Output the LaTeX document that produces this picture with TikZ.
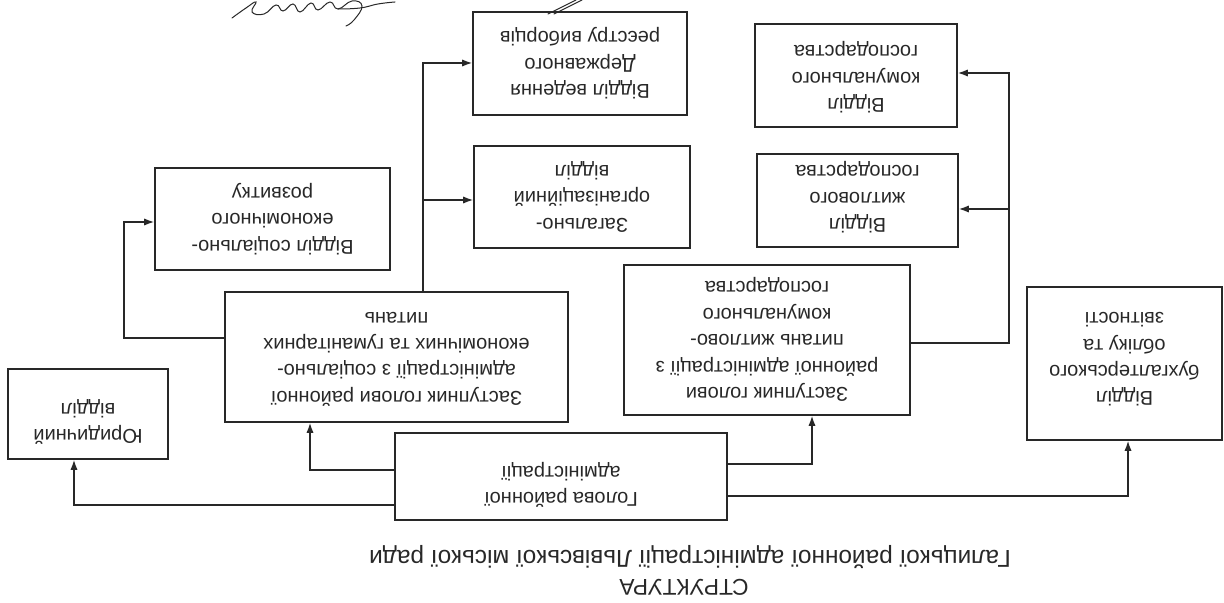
\documentclass[tikz,border=0pt]{standalone}
\usepackage{fontspec}
\setmainfont{Liberation Sans}
\usepackage{graphicx}
\usetikzlibrary{arrows.meta}
\definecolor{ink}{RGB}{40,40,40}
\newcommand\ud[2][0pt]{\raisebox{#1}[\height][\depth]{\rotatebox[origin=c]{180}{\begin{tabular}{@{}c@{}}#2\end{tabular}}}}
\begin{document}
\begin{tikzpicture}[x=0.5pt,y=-0.5pt,
  box/.style={draw=ink, line width=0.8pt, inner sep=0pt, text=ink,
    font=\fontsize{10}{13.2}\selectfont},
  arr/.style={draw=ink, line width=0.7pt, -{Latex[length=5pt,width=3.6pt]}},
  ttl/.style={text=ink, inner sep=0pt}]
\useasboundingbox[fill=white] (0,0) rectangle (1224,603);

\node[box, minimum width=80pt, minimum height=45pt] (jur) at (88,414) {\ud[-4pt]{Юридичний\\відділ}};
\node[box, minimum width=171.5pt, minimum height=65pt] (zs) at (396.5,357) {\ud{Заступник голови районної\\адміністрації з соціально-\\економічних та гуманітарних\\питань}};
\node[box, minimum width=166pt, minimum height=43.5pt] (hol) at (561,476.5) {\ud[-4pt]{Голова районної\\адміністрації}};
\node[box, minimum width=143pt, minimum height=75pt] (zz) at (767,340) {\ud{Заступник голови\\районної адміністрації з\\питань житлово-\\комунального\\господарства}};
\node[box, minimum width=97.5pt, minimum height=76.5pt] (buh) at (1124.5,363.5) {\ud[3pt]{Відділ\\бухгалтерського\\обліку та\\звітності}};
\node[box, minimum width=117.5pt, minimum height=51pt] (vse) at (272.5,219) {\ud{Відділ соціально-\\економічного\\розвитку}};
\node[box, minimum width=108pt, minimum height=51pt] (zag) at (582,197) {\ud{Загально-\\організаційний\\відділ}};
\node[box, minimum width=107pt, minimum height=51.5pt] (ved) at (580,63.5) {\ud{Відділ ведення\\Державного\\реєстру виборців}};
\node[box, minimum width=100.5pt, minimum height=46.5pt] (zhyt) at (857.5,200.5) {\ud[1.5pt]{Відділ\\житлового\\господарства}};
\node[box, minimum width=101pt, minimum height=51.5pt] (kom) at (856,75.5) {\ud[-1pt]{Відділ\\комунального\\господарства}};

\node[ttl, font=\fontsize{12.2}{14}\selectfont] (t1) at (690,557) {\rotatebox[origin=c]{180}{Галицької районної адміністрації Львівської міської ради}};
\node[ttl, font=\fontsize{11.4}{14}\selectfont] (t2) at (684,587) {\rotatebox[origin=c]{180}{СТРУКТУРА}};

\coordinate (cl) at (124,0);
\coordinate (cm) at (423,0);
\coordinate (cr) at (1009,0);

\draw[arr] (hol.west |- 0,505) -| (74,0 |- jur.south);
\draw[arr] (hol.west |- 0,470) -| (310,0 |- zs.south);
\draw[arr] (hol.east |- 0,464) -| (812,0 |- zz.south);
\draw[arr] (hol.east |- 0,496) -| (1128,0 |- buh.south);

\draw[arr] (zs.west |- 0,338) -| (cl |- 0,222) -- (vse.west |- 0,222);
\draw[arr] (cm |- zs.north) |- (ved.west |- 0,63);
\draw[arr] (cm |- 0,200) -- (zag.west |- 0,200);

\draw[arr] (zz.east |- 0,343) -| (cr |- 0,73) -- (kom.east |- 0,73);
\draw[arr] (cr |- 0,209) -- (zhyt.east |- 0,209);

% signature scribble
\draw[ink, line width=0.5pt, line cap=round] plot[smooth, tension=0.8] coordinates {(232,18) (246,8) (256,2) (252,12) (264,14) (276,5) (283,11) (293,4) (300,12) (311,3) (318,10) (330,2) (338,9) (352,1) (362,6) (354,20) (346,26)};
\draw[ink, line width=0.5pt, line cap=round] plot[smooth, tension=0.8] coordinates {(338,9) (360,8) (378,4) (395,2)};
\draw[ink, line width=0.5pt, line cap=round] (548,14) -- (576,0);
\draw[ink, line width=0.5pt, line cap=round] (554,14) -- (582,0);
\end{tikzpicture}
\end{document}
